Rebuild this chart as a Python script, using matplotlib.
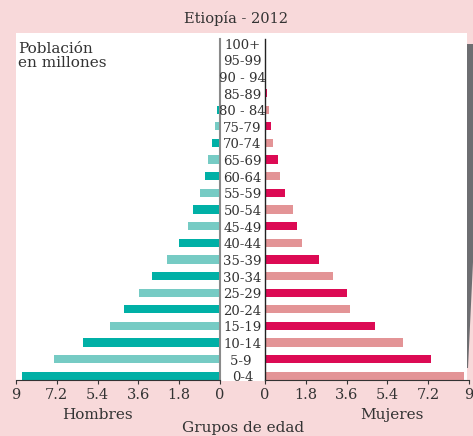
#Population pyramid for Ethiopia 2012
#men on the left, women on the right, age groups in the middle

import matplotlib
matplotlib.use("Agg")
import matplotlib.pyplot as plt
from matplotlib.patches import Rectangle, Polygon

#####DATA#####
grupos = ["0-4", "5-9 ", "10-14", "15-19", "20-24", "25-29", "30-34", "35-39",
          "40-44", "45-49", "50-54", "55-59", "60-64", "65-69", "70-74", "75-79",
          "80 - 84", "85-89", "90 - 94", "95-99", "100+"]
hombres = [8.73, 7.32, 6.04, 4.85, 4.24, 3.57, 3.00, 2.34, 1.81, 1.41, 1.19,
           0.88, 0.66, 0.53, 0.35, 0.22, 0.13, 0.05, 0.04, 0.03, 0.02]
mujeres = [8.78, 7.32, 6.08, 4.85, 3.75, 3.60, 3.00, 2.38, 1.63, 1.41, 1.24,
           0.88, 0.66, 0.57, 0.35, 0.26, 0.16, 0.07, 0.06, 0.05, 0.03]
ticks = [0, 1.8, 3.6, 5.4, 7.2, 9]
tick_labels = ["0", "1.8", "3.6", "5.4", "7.2", "9"]
#####END DATA#####

plt.rcParams["font.family"] = ["DejaVu Serif"]
txt = "#333333"

fondo = "#f8d9da"
fig = plt.figure(figsize=(4.73, 4.36), dpi=100, facecolor=fondo)

#white panel and the grey page edge on the right (behind the axes)
fig.patches.append(Rectangle((16 / 473, 55 / 436), 451 / 473, 348 / 436,
                             transform=fig.transFigure, facecolor="white",
                             edgecolor="none", zorder=-5))
pts = [(467, 44), (473, 44), (473, 262), (468, 368), (467, 368)]
pts = [(x / 473, 1 - y / 436) for x, y in pts]
fig.patches.append(Polygon(pts, closed=True, transform=fig.transFigure,
                           facecolor="#6d6e71", edgecolor="none", zorder=-5))

ax_h = fig.add_axes([16 / 473, 56 / 436, 204 / 473, 341 / 436])
ax_m = fig.add_axes([265 / 473, 56 / 436, 204 / 473, 341 / 436])

pos = list(range(len(grupos)))
col_h = ["#00b0a6" if i % 2 == 0 else "#76cbc4" for i in pos]
col_m = ["#e39496" if i % 2 == 0 else "#dc0a54" for i in pos]

ax_h.barh(pos, hombres, height=0.5, color=col_h)
ax_m.barh(pos, mujeres, height=0.5, color=col_m)

ax_h.set_xlim(9, 0)
ax_m.set_xlim(0, 9)
for ax in (ax_h, ax_m):
    ax.set_ylim(-0.25, 20.25)
    ax.set_facecolor("none")
    ax.set_yticks([])
    ax.set_xticks(ticks)
    ax.set_xticklabels(tick_labels)
    ax.tick_params(axis="x", length=3, width=0.8, colors="#333333",
                   labelsize=10.5, labelcolor=txt, pad=3)
    ax.spines["top"].set_visible(False)
    ax.spines["bottom"].set_color("#333333")
    ax.spines["bottom"].set_linewidth(0.8)

ax_h.spines["left"].set_visible(False)
ax_h.spines["right"].set_color("#8a8a8a")
ax_h.spines["right"].set_linewidth(1.5)
ax_m.spines["right"].set_visible(False)
ax_m.spines["left"].set_color("#222222")
ax_m.spines["left"].set_linewidth(1.0)

#age group labels in the gap between the two halves
for i, g in enumerate(grupos):
    ax_h.annotate(g, xy=(0, i), xycoords="data", xytext=(22.5, -2),
                  textcoords="offset pixels", ha="center", va="center",
                  fontsize=9.5, color=txt, annotation_clip=False)

fig.text(236 / 473, 1 - 18 / 436, "Etiopía - 2012", ha="center", va="center",
         fontsize=10.5, color=txt)
fig.text(18 / 473, 1 - 42 / 436, "Población\nen millones", ha="left", va="top",
         fontsize=11, color=txt, linespacing=1.0)
fig.text(97 / 473, 1 - 415 / 436, "Hombres", ha="center", va="center",
         fontsize=11, color=txt)
fig.text(392 / 473, 1 - 415 / 436, "Mujeres", ha="center", va="center",
         fontsize=11, color=txt)
fig.text(243 / 473, 1 - 428 / 436, "Grupos de edad", ha="center", va="center",
         fontsize=11, color=txt)

fig.savefig("out.png", dpi=100, facecolor=fondo)
